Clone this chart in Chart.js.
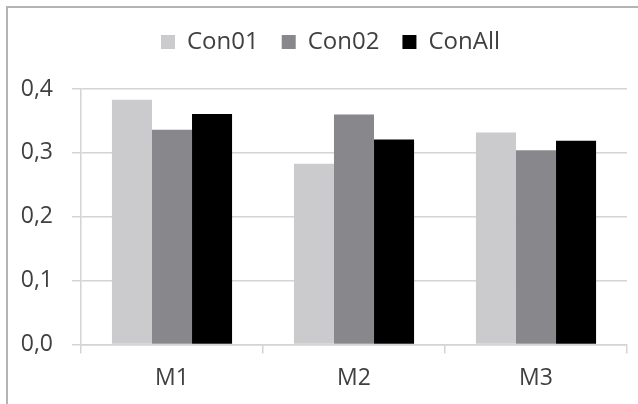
<!DOCTYPE html>
<html>
<head>
<meta charset="utf-8">
<script src="https://cdn.jsdelivr.net/npm/chart.js@4/dist/chart.umd.min.js"></script>
<style>
  html, body { margin: 0; padding: 0; background: #ffffff; }
  #wrap { position: relative; width: 638px; height: 404px; overflow: hidden; }
  #frame {
    position: absolute; left: 6px; top: 6px; width: 700px; height: 500px;
    border-top: 2px solid #b4b4b4; border-left: 2px solid #b4b4b4;
  }
  #chart { position: absolute; left: 0; top: 0; }
</style>
</head>
<body>
<div id="wrap">
  <div id="frame"></div>
  <canvas id="chart" width="638" height="404"></canvas>
</div>
<script>
// Categories, series and y tick labels
const categories = ['M1', 'M2', 'M3'];
const con01 = [0.383, 0.283, 0.332];
const con02 = [0.336, 0.360, 0.304];
const conAll = [0.361, 0.321, 0.319];
const yTickLabels = ['0,0', '0,1', '0,2', '0,3', '0,4'];

const textColor = '#404040';
const gridColor = '#d4d4d4';
const axisFont = { family: 'Open Sans', size: 23 };
const legendFont = { family: 'Open Sans', size: 24 };

// Extra room under the legend and a small rightward nudge of the legend row
const legendSpacing = {
  id: 'legendSpacing',
  afterInit(chart) {
    const legend = chart.legend;
    const fit = legend.fit;
    legend.fit = function () {
      fit.call(this);
      this.height += 25;
    };
  },
  afterLayout(chart) {
    chart.legend.left += 7;
    chart.legend.right += 7;
    chart.legend.adjustHitBoxes && chart.legend.adjustHitBoxes();
  }
};

new Chart(document.getElementById('chart'), {
  type: 'bar',
  data: {
    labels: categories,
    datasets: [
      { label: 'Con01', data: con01, backgroundColor: '#cbcbce' },
      { label: 'Con02', data: con02, backgroundColor: '#88878c' },
      { label: 'ConAll', data: conAll, backgroundColor: '#000000' }
    ]
  },
  plugins: [legendSpacing],
  options: {
    responsive: false,
    animation: false,
    devicePixelRatio: 1,
    layout: { padding: { left: 20, right: 11, top: 7, bottom: 1 } },
    datasets: { bar: { categoryPercentage: 0.66, barPercentage: 1.0 } },
    plugins: {
      tooltip: { enabled: false },
      legend: {
        position: 'top',
        labels: {
          color: textColor,
          font: legendFont,
          boxWidth: 14,
          boxHeight: 14,
          padding: 23
        }
      }
    },
    scales: {
      x: {
        grid: { drawOnChartArea: false, drawTicks: true, tickLength: 9, color: gridColor, lineWidth: 1.5 },
        border: { color: gridColor, width: 1.5 },
        ticks: { color: textColor, font: axisFont, padding: 11 }
      },
      y: {
        min: 0,
        max: 0.4,
        afterFit(scale) { scale.width = 61; },
        ticks: {
          stepSize: 0.1,
          color: textColor,
          font: axisFont,
          padding: 19,
          callback: (v, i) => yTickLabels[i]
        },
        grid: { color: gridColor, lineWidth: 1.5, tickLength: 9 },
        border: { color: gridColor, width: 1.5 }
      }
    }
  }
});
</script>
</body>
</html>
